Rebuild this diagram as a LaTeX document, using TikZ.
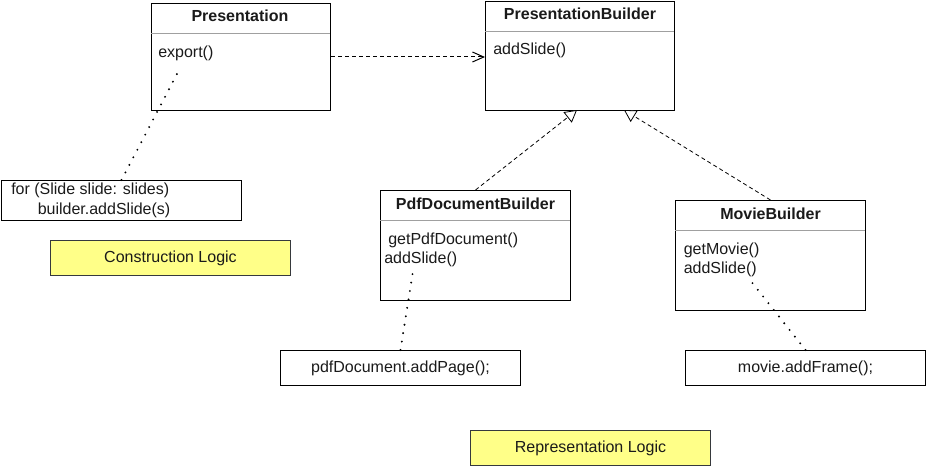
\documentclass[tikz,border=0pt]{standalone}
\usepackage{fontspec}
\setmainfont{Liberation Sans}
\usetikzlibrary{arrows.meta}

\definecolor{nota_amarela}{HTML}{FFFF88}
\definecolor{borda_nota}{HTML}{36393D}
\definecolor{linha_sep}{HTML}{A0A0A0}
\definecolor{cor_texto}{HTML}{1A1A1A}

\begin{document}
\begin{tikzpicture}[x=0.75pt,y=-0.75pt,font=\fontsize{12}{14}\selectfont,text=cor_texto]
        \tikzset{
            classe/.style 2 args={
                draw,
                line width=0.75pt,
                anchor=north west,
                inner sep=0pt,
                minimum width=#1*0.75pt,
                minimum height=#2*0.75pt
            },
            nota/.style 2 args={
                classe={#1}{#2}
            },
            logica/.style 2 args={
                classe={#1}{#2},
                draw=borda_nota,
                fill=nota_amarela
            },
            titulo/.style={
                font=\fontsize{12}{14}\selectfont\bfseries,
                inner sep=0pt
            },
            texto/.style={
                anchor=west,
                inner sep=0pt
            },
            separador/.style={
                draw=linha_sep,
                line width=0.75pt
            },
            dependencia/.style={
                line width=0.75pt,
                dash pattern=on 3pt off 2.25pt,
                -{Straight Barb[length=8.5pt,width=7.5pt]}
            },
            heranca/.style={
                line width=0.6pt,
                dash pattern=on 3pt off 2.25pt,
                -{Triangle[open,length=9pt,width=10pt,fill=white]}
            },
            pontilhado/.style={
                line width=1.6pt,
                line cap=round,
                dash pattern=on 0pt off 6.4pt
            }
        }
        \useasboundingbox (0,0) rectangle (926,466);

        %classes
        \node[classe={179}{107}] (presentation) at (151,3) {};
        \draw[separador] (151,34) -- (330,34);
        \node[titulo] (t_presentation) at (240,16) {Presentation};
        \node[texto] (m_export) at (158,53) {export()};

        \node[classe={189}{109}] (builder) at (485,1) {};
        \draw[separador] (485,32) -- (674,32);
        \node[titulo] (t_builder) at (580,13.5) {PresentationBuilder};
        \node[texto] (m_addslide) at (493,50.5) {addSlide()};

        \node[classe={190}{110}] (pdfbuilder) at (380,190) {};
        \draw[separador] (380,221) -- (570,221);
        \node[titulo] (t_pdf) at (475.5,203.5) {PdfDocumentBuilder};
        \node[texto] (m_getpdf) at (388,240.5) {getPdfDocument()};
        \node[texto] (m_pdfslide) at (384,259.5) {addSlide()};

        \node[classe={190}{110}] (moviebuilder) at (675,200) {};
        \draw[separador] (675,231) -- (865,231);
        \node[titulo] (t_movie) at (770.5,213.5) {MovieBuilder};
        \node[texto] (m_getmovie) at (683.5,250) {getMovie()};
        \node[texto] (m_movieslide) at (683.5,269.5) {addSlide()};

        %notas
        \node[nota={240}{40}] (nota_for) at (1,180) {};
        \node[texto] (for1) at (11,190.5) {for (Slide slide: slides)};
        \node[texto] (for2) at (37.5,210.5) {builder.addSlide(s)};
        \node[nota={240}{35}] (nota_pdf) at (280,350) {pdfDocument.addPage();};
        \node[nota={240}{35}] (nota_movie) at (685,350) {movie.addFrame();};

        \node[logica={240}{35}] (construcao) at (50,240) {Construction Logic};
        \node[logica={240}{35}] (representacao) at (470,430) {Representation Logic};

        %ligacoes
        \draw[dependencia] (presentation.east) -- (presentation.east -| builder.west);

        \coordinate (heranca_pdf) at (577,110);
        \coordinate (heranca_movie) at (624,110);
        \draw[heranca] (pdfbuilder.north) -- (heranca_pdf);
        \draw[heranca] (moviebuilder.north) -- (heranca_movie);

        \coordinate (ponto_export) at (178,72);
        \coordinate (ponto_pdf) at (413.5,268);
        \coordinate (ponto_movie) at (750,280);
        \draw[pontilhado] (nota_for.north) -- (ponto_export);
        \draw[pontilhado] (nota_pdf.north) -- (ponto_pdf);
        \draw[pontilhado] (nota_movie.north) -- (ponto_movie);

    \end{tikzpicture}
\end{document}
